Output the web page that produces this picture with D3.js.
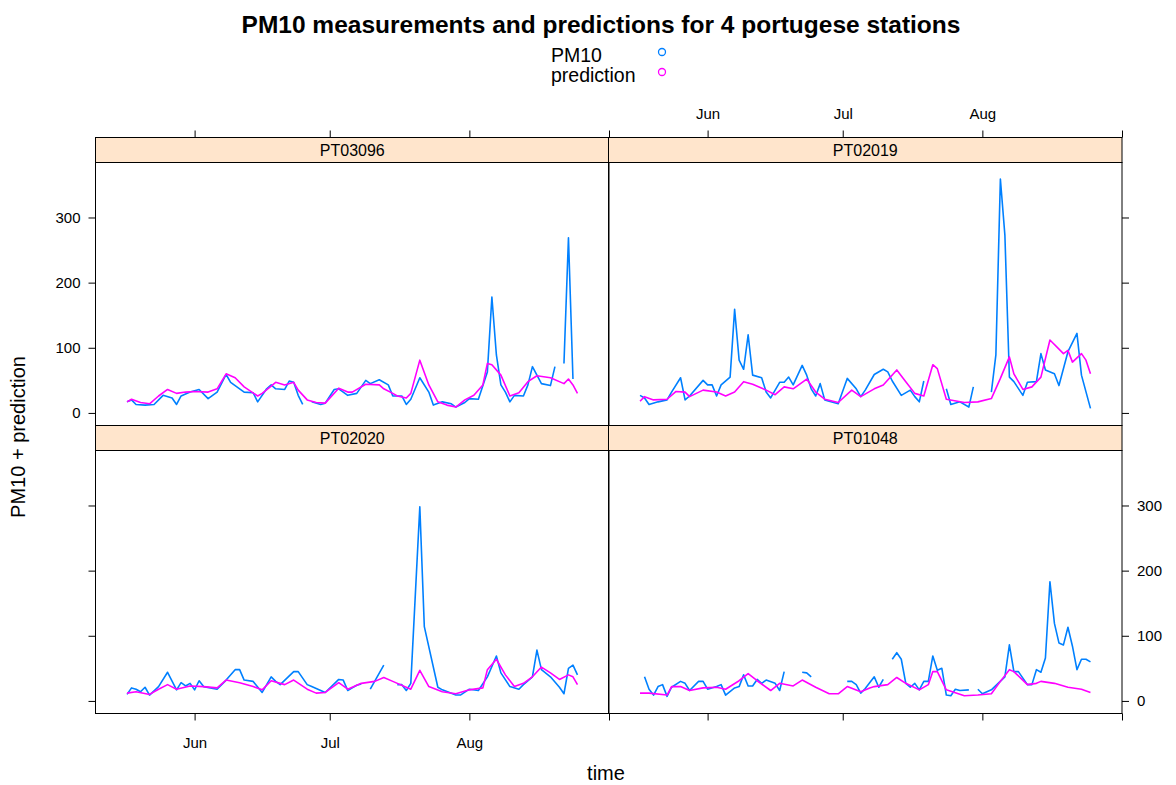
<!DOCTYPE html>
<html><head><meta charset="utf-8">
<script src="https://cdn.jsdelivr.net/npm/d3@7"></script>
<style>
body{margin:0;background:#fff}
svg{display:block}
text{font-family:"Liberation Sans",Arial,sans-serif;fill:#000}
</style>
</head><body>
<svg id="chart" width="1176" height="785"></svg>
<script>
// ---------------- data ----------------
const stations = ["PT03096", "PT02019", "PT02020", "PT01048"];
const seriesNames = ["PM10", "prediction"];
const seriesColors = ["#0080ff", "#ff00ff"];
const monthTickDates = ["06-01", "07-01", "08-01", "09-01"];
const monthTickLabels = ["Jun", "Jul", "Aug", ""];
const yTickValues = [0, 100, 200, 300];
const xDomainDates = ["05-10", "09-01"];
const yDomain = [-19.3, 384.4];

const pm10_PT03096 = [["05-17",17],["05-18",20],["05-19",13],["05-21",12],["05-23",13],["05-25",27],["05-27",23],["05-28",13],["05-29",26],["05-31",32],["06-02",36],["06-04",22],["06-06",32],["06-08",59],["06-09",47],["06-12",32],["06-14",31],["06-15",17],["06-17",37],["06-18",43],["06-19",37],["06-21",36],["06-22",49],["06-23",47],["06-24",27],["06-25",13],["06-26",null],["06-27",17],["06-29",13],["06-30",15],["07-02",36],["07-03",37],["07-05",27],["07-07",30],["07-09",50],["07-10",45],["07-12",51],["07-14",43],["07-15",26],["07-17",26],["07-18",13],["07-19",21],["07-21",54],["07-23",32],["07-24",12],["07-26",17],["07-28",14],["07-29",9],["07-31",16],["08-01",22],["08-03",21],["08-05",63],["08-06",178],["08-07",89],["08-08",43],["08-09",32],["08-10",17],["08-11",27],["08-13",26],["08-14",43],["08-15",71],["08-16",58],["08-17",45],["08-19",42],["08-20",71],["08-21",null],["08-22",76],["08-23",269],["08-24",52]];
const pred_PT03096 = [["05-17",17],["05-18",21],["05-20",16],["05-22",14],["05-24",26],["05-26",36],["05-28",30],["05-30",32],["06-01",33],["06-04",32],["06-06",37],["06-08",60],["06-10",54],["06-12",40],["06-15",26],["06-16",30],["06-18",41],["06-19",47],["06-21",43],["06-23",47],["06-24",35],["06-26",20],["06-28",16],["06-30",15],["07-03",38],["07-05",32],["07-06",32],["07-09",44],["07-12",43],["07-13",37],["07-15",30],["07-16",26],["07-18",23],["07-19",30],["07-21",81],["07-23",43],["07-25",17],["07-27",12],["07-29",9],["07-31",20],["08-02",27],["08-04",43],["08-05",76],["08-06",74],["08-08",58],["08-10",26],["08-12",31],["08-14",48],["08-16",57],["08-19",54],["08-22",45],["08-23",52],["08-24",43],["08-25",30]];

const pm10_PT02019 = [["05-17",27],["05-18",23],["05-19",13],["05-21",17],["05-23",20],["05-24",32],["05-26",54],["05-27",20],["05-28",26],["05-31",50],["06-01",43],["06-02",43],["06-03",26],["06-04",43],["06-06",55],["06-07",159],["06-08",81],["06-09",67],["06-10",120],["06-11",58],["06-13",54],["06-14",32],["06-15",23],["06-17",47],["06-18",47],["06-19",55],["06-20",43],["06-22",73],["06-23",58],["06-24",37],["06-25",26],["06-26",45],["06-27",20],["06-30",14],["07-02",53],["07-04",37],["07-05",25],["07-06",35],["07-08",59],["07-10",67],["07-11",63],["07-12",49],["07-14",27],["07-16",35],["07-17",25],["07-18",17],["07-19",49],["07-20",null],["07-24",37],["07-25",13],["07-27",17],["07-29",9],["07-30",40],["07-31",null],["08-03",32],["08-04",89],["08-05",359],["08-06",273],["08-07",55],["08-08",48],["08-10",27],["08-11",47],["08-13",48],["08-14",91],["08-15",66],["08-17",60],["08-18",42],["08-20",94],["08-22",122],["08-23",58],["08-25",7]];
const pred_PT02019 = [["05-17",18],["05-18",25],["05-20",20],["05-23",21],["05-25",33],["05-27",32],["05-28",25],["05-31",35],["06-03",32],["06-05",26],["06-07",32],["06-09",48],["06-11",44],["06-14",35],["06-16",28],["06-18",40],["06-20",37],["06-23",52],["06-25",32],["06-27",21],["06-30",16],["07-03",35],["07-05",25],["07-08",37],["07-10",43],["07-13",66],["07-15",48],["07-17",30],["07-19",26],["07-21",74],["07-22",68],["07-24",21],["07-28",16],["07-31",17],["08-03",22],["08-05",53],["08-07",86],["08-08",60],["08-10",36],["08-12",40],["08-14",55],["08-16",112],["08-19",91],["08-20",96],["08-21",78],["08-23",91],["08-24",81],["08-25",60]];

const pm10_PT02020 = [["05-17",10],["05-18",20],["05-19",18],["05-20",14],["05-21",21],["05-22",9],["05-24",22],["05-26",44],["05-28",17],["05-29",28],["05-30",23],["05-31",27],["06-01",17],["06-02",31],["06-03",22],["06-06",18],["06-08",32],["06-10",48],["06-11",48],["06-12",32],["06-14",30],["06-16",13],["06-18",37],["06-19",30],["06-20",25],["06-23",45],["06-24",45],["06-26",25],["06-27",22],["06-30",13],["07-03",33],["07-04",32],["07-05",16],["07-06",20],["07-07",24],["07-08",26],["07-09",null],["07-10",18],["07-13",55],["07-14",null],["07-16",25],["07-17",25],["07-18",16],["07-19",27],["07-21",298],["07-22",114],["07-25",21],["07-26",17],["07-29",9],["07-30",9],["08-01",18],["08-03",16],["08-05",37],["08-07",69],["08-08",43],["08-10",22],["08-12",18],["08-13",25],["08-15",37],["08-16",78],["08-17",48],["08-19",37],["08-21",21],["08-22",11],["08-23",50],["08-24",55],["08-25",40]];
const pred_PT02020 = [["05-17",12],["05-19",14],["05-22",10],["05-24",18],["05-26",25],["05-28",18],["05-31",23],["06-03",22],["06-06",20],["06-08",32],["06-11",28],["06-14",22],["06-16",17],["06-18",31],["06-21",25],["06-23",32],["06-26",18],["06-28",12],["06-30",13],["07-03",28],["07-05",18],["07-06",21],["07-08",27],["07-11",30],["07-13",36],["07-15",30],["07-19",18],["07-21",47],["07-23",22],["07-26",14],["07-29",11],["08-01",17],["08-04",20],["08-05",48],["08-07",64],["08-09",40],["08-11",22],["08-13",27],["08-15",37],["08-17",52],["08-19",43],["08-21",33],["08-23",40],["08-24",37],["08-25",25]];

const pm10_PT01048 = [["05-18",37],["05-19",18],["05-20",9],["05-21",22],["05-22",25],["05-23",7],["05-24",21],["05-26",30],["05-27",27],["05-28",16],["05-30",30],["05-31",30],["06-01",18],["06-03",22],["06-04",25],["06-05",9],["06-07",20],["06-08",22],["06-09",40],["06-10",23],["06-11",23],["06-12",33],["06-13",27],["06-14",32],["06-16",27],["06-17",16],["06-18",45],["06-19",null],["06-22",44],["06-23",43],["06-24",37],["06-25",null],["07-02",30],["07-03",30],["07-04",25],["07-05",12],["07-06",19],["07-08",37],["07-09",21],["07-10",33],["07-11",null],["07-12",64],["07-13",74],["07-14",64],["07-15",27],["07-16",21],["07-17",27],["07-18",17],["07-19",30],["07-20",30],["07-21",69],["07-22",47],["07-23",50],["07-24",9],["07-25",8],["07-26",18],["07-27",16],["07-29",17],["07-30",null],["07-31",18],["08-01",11],["08-03",17],["08-06",37],["08-07",86],["08-08",45],["08-09",45],["08-11",25],["08-12",25],["08-13",48],["08-14",44],["08-15",66],["08-16",183],["08-17",119],["08-18",89],["08-19",86],["08-20",113],["08-21",84],["08-22",48],["08-23",64],["08-24",64],["08-25",60]];
const pred_PT01048 = [["05-17",12],["05-19",12],["05-23",9],["05-24",22],["05-26",22],["05-28",16],["05-31",20],["06-03",21],["06-05",18],["06-08",31],["06-10",42],["06-12",31],["06-15",16],["06-17",27],["06-20",23],["06-22",32],["06-25",21],["06-28",11],["06-30",11],["07-02",22],["07-05",14],["07-07",20],["07-08",22],["07-11",25],["07-13",36],["07-15",27],["07-18",17],["07-20",25],["07-21",45],["07-22",45],["07-24",17],["07-28",8],["07-31",9],["08-03",11],["08-05",30],["08-07",48],["08-08",45],["08-11",25],["08-13",27],["08-14",30],["08-17",27],["08-20",21],["08-23",18],["08-25",13]];

const stationSeries = {
  PT03096: [pm10_PT03096, pred_PT03096],
  PT02019: [pm10_PT02019, pred_PT02019],
  PT02020: [pm10_PT02020, pred_PT02020],
  PT01048: [pm10_PT01048, pred_PT01048]
};

// ---------------- layout ----------------
const parse = d3.utcParse("%Y-%m-%d");
const toDate = s => parse("2005-" + s);
const svg = d3.select("#chart");

const colX = [95.5, 608.5];
const panelW = 513.5;
const stripH = 25;
const rowTop = [137.5, 425.5];
const plotH = 263;

const xScales = colX.map(x0 => d3.scaleUtc().domain(xDomainDates.map(toDate)).range([x0, x0 + panelW]));
const yScales = rowTop.map(t => d3.scaleLinear().domain(yDomain).range([t + stripH + plotH, t + stripH]));

const tickDates = monthTickDates.map(toDate);
const labelFor = d => monthTickLabels[tickDates.findIndex(t => +t === +d)];

const defs = svg.append("defs");

stations.forEach((st, i) => {
  const col = i % 2, row = Math.floor(i / 2);
  const x = xScales[col], y = yScales[row];
  const top = rowTop[row], x0 = colX[col];
  const g = svg.append("g");

  // strip
  g.append("rect").attr("x", x0).attr("y", top).attr("width", panelW).attr("height", stripH)
    .attr("fill", "#ffe5cc").attr("stroke", "#000").attr("stroke-width", 1);
  g.append("text").attr("x", x0 + panelW / 2).attr("y", top + stripH / 2 + 6)
    .attr("text-anchor", "middle").style("font-size", "16px").text(st);

  // clip
  const cid = "clip" + i;
  defs.append("clipPath").attr("id", cid).append("rect")
    .attr("x", x0).attr("y", top + stripH).attr("width", panelW).attr("height", plotH);

  // lines
  const line = d3.line().defined(d => d[1] !== null)
    .x(d => x(toDate(d[0]))).y(d => y(d[1]));
  stationSeries[st].forEach((data, k) => {
    g.append("path").attr("clip-path", `url(#${cid})`).datum(data)
      .attr("d", line).attr("fill", "none").attr("stroke", seriesColors[k])
      .attr("stroke-width", 1.6).attr("stroke-linejoin", "round");
  });

  // panel border
  g.append("rect").attr("x", x0).attr("y", top + stripH).attr("width", panelW).attr("height", plotH)
    .attr("fill", "none").attr("stroke", "#000").attr("stroke-width", 1);

  // axes (lattice alternating)
  const axStyle = a => {
    a.select(".domain").remove();
    a.selectAll(".tick line").attr("stroke", "#000");
    a.selectAll(".tick text").style("font-size", "15px").style("font-family", '"Liberation Sans",Arial,sans-serif');
  };
  if (row === 0) {
    const ax = d3.axisTop(x).tickValues(tickDates).tickSize(7).tickPadding(12)
      .tickFormat(col === 1 ? labelFor : () => "");
    svg.append("g").attr("transform", `translate(0,${top})`).call(ax).call(axStyle);
  } else {
    const ax = d3.axisBottom(x).tickValues(tickDates).tickSize(7).tickPadding(17)
      .tickFormat(col === 0 ? labelFor : () => "");
    svg.append("g").attr("transform", `translate(0,${top + stripH + plotH})`).call(ax).call(axStyle);
  }
  if (col === 0) {
    const ax = d3.axisLeft(y).tickValues(yTickValues).tickSize(7).tickPadding(8)
      .tickFormat(row === 0 ? d3.format("d") : () => "");
    svg.append("g").attr("transform", `translate(${x0},0)`).call(ax).call(axStyle);
  } else {
    const ax = d3.axisRight(y).tickValues(yTickValues).tickSize(7).tickPadding(8)
      .tickFormat(row === 1 ? d3.format("d") : () => "");
    svg.append("g").attr("transform", `translate(${x0 + panelW},0)`).call(ax).call(axStyle);
  }
});

// title
svg.append("text").attr("x", 601).attr("y", 33).attr("text-anchor", "middle")
  .style("font-size", "24.5px").style("font-weight", "bold")
  .text("PM10 measurements and predictions for 4 portugese stations");

// legend
seriesNames.forEach((nm, k) => {
  svg.append("text").attr("x", 551).attr("y", 62 + k * 20).style("font-size", "19.5px").text(nm);
  svg.append("circle").attr("cx", 662).attr("cy", 52 + k * 20).attr("r", 3.5)
    .attr("fill", "none").attr("stroke", seriesColors[k]).attr("stroke-width", 1.3);
});

// axis titles
svg.append("text").attr("x", 606).attr("y", 780).attr("text-anchor", "middle")
  .style("font-size", "20px").text("time");
svg.append("text").attr("transform", "translate(25,437) rotate(-90)").attr("text-anchor", "middle")
  .style("font-size", "20px").text("PM10 + prediction");
</script>
</body></html>
